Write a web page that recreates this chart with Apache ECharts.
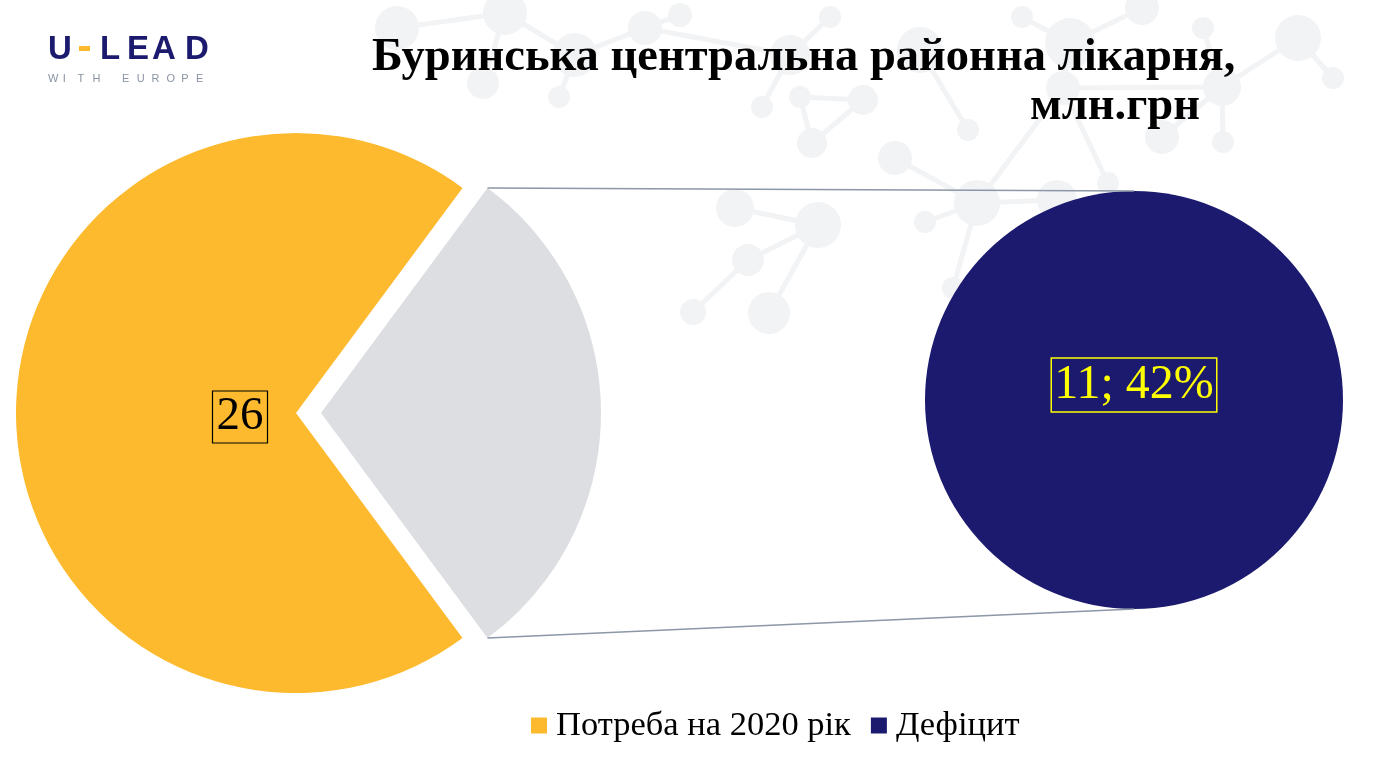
<!DOCTYPE html>
<html>
<head>
<meta charset="utf-8">
<script src="https://cdn.jsdelivr.net/npm/echarts@6/dist/echarts.min.js"></script>
<style>
  html, body { margin: 0; padding: 0; background: #fff; }
  #chart { width: 1380px; height: 757px; }
</style>
</head>
<body>
<div id="chart"></div>
<script>
// values, млн.грн
const categories = ['Потреба на 2020 рік', 'Дефіцит'];
const values = [26, 11];
const otherName = 'Інше';
const titleLines = ['Буринська центральна районна лікарня,', 'млн.грн'];

const YELLOW = '#fdba2e';
const GREY = '#dcdee2';
const NAVY = '#1b1a6e';
const SERIF = '"Liberation Serif", "Times New Roman", serif';

// pie geometry
const mainCenter = [296, 413];
const mainRadius = 280;
const explode = 25;
const subCenter = [1134, 400];
const subRadius = 209;

const total = values[0] + values[1];
const otherAngle = values[1] / total * 360;
const startAngle = -otherAngle / 2;
const deficitPct = Math.round(values[1] / values[0] * 100);

// faint molecule pattern behind the title
const decoNodes = [
  [397, 28, 22], [505, 13, 22], [575, 55, 22], [483, 83, 16], [559, 97, 11],
  [645, 28, 17], [680, 15, 12], [790, 55, 20], [762, 107, 11], [800, 97, 11],
  [830, 17, 11], [863, 100, 15], [812, 143, 15], [735, 208, 19], [818, 225, 23],
  [748, 260, 16], [769, 313, 21], [693, 312, 13], [920, 50, 23], [968, 130, 11],
  [895, 158, 17], [977, 203, 23], [925, 222, 11], [1070, 43, 25], [1063, 88, 17],
  [1022, 17, 11], [1057, 200, 20], [1108, 183, 11], [1162, 137, 17], [1142, 8, 17],
  [1222, 87, 19], [1203, 28, 11], [1223, 142, 11], [1298, 38, 23], [1333, 78, 11],
  [953, 288, 11]
];
const decoEdges = [
  [0, 1], [1, 2], [1, 3], [2, 4], [2, 5], [5, 6], [5, 7], [7, 8], [7, 10], [9, 11],
  [11, 12], [13, 14], [14, 15], [15, 17], [14, 16], [18, 19], [20, 21], [21, 22],
  [21, 26], [21, 24], [24, 23], [23, 25], [23, 29], [24, 27], [24, 30], [30, 31],
  [30, 32], [30, 33], [33, 34], [21, 35], [28, 30], [12, 9]
];

const chart = echarts.init(document.getElementById('chart'));

const rad = (otherAngle / 2) * Math.PI / 180;
const cornerX = mainCenter[0] + explode + mainRadius * Math.cos(rad);
const cornerTop = mainCenter[1] - mainRadius * Math.sin(rad);
const cornerBottom = mainCenter[1] + mainRadius * Math.sin(rad);

const graphics = [];
decoEdges.forEach(([a, b]) => {
  graphics.push({
    type: 'line', z: 0, silent: true,
    shape: { x1: decoNodes[a][0], y1: decoNodes[a][1], x2: decoNodes[b][0], y2: decoNodes[b][1] },
    style: { stroke: '#f2f3f5', lineWidth: 5 }
  });
});
decoNodes.forEach(([x, y, r]) => {
  graphics.push({ type: 'circle', z: 0, silent: true, shape: { cx: x, cy: y, r: r }, style: { fill: '#f2f3f5' } });
});

// connector lines between the two pies
graphics.push(
  { type: 'line', z: 3, shape: { x1: cornerX, y1: cornerTop, x2: subCenter[0], y2: subCenter[1] - subRadius },
    style: { stroke: '#8c97a7', lineWidth: 1.5 } },
  { type: 'line', z: 3, shape: { x1: cornerX, y1: cornerBottom, x2: subCenter[0], y2: subCenter[1] + subRadius },
    style: { stroke: '#8c97a7', lineWidth: 1.5 } }
);

// title
graphics.push(
  { type: 'text', z: 10, left: 372, top: 34,
    style: { text: titleLines[0], font: 'bold 46.5px ' + SERIF, fill: '#000' } },
  { type: 'text', z: 10, left: 1030, top: 83,
    style: { text: titleLines[1], font: 'bold 46.5px ' + SERIF, fill: '#000' } }
);

// logo
const logoLetters = [['U', 48], ['L', 100], ['E', 127], ['A', 152], ['D', 185]];
logoLetters.forEach(([ch, x]) => {
  graphics.push({ type: 'text', z: 10, left: x, top: 33,
    style: { text: ch, font: 'bold 33px "Liberation Sans", Arial, sans-serif', fill: NAVY } });
});
graphics.push({ type: 'rect', z: 10, shape: { x: 79, y: 46, width: 11, height: 5 }, style: { fill: YELLOW } });
'WITH EUROPE'.split('').forEach((ch, i) => {
  if (ch === ' ') return;
  graphics.push({ type: 'text', z: 10, left: 48 + i * 14.8, top: 73,
    style: { text: ch, font: '11px "Liberation Sans", Arial, sans-serif', fill: '#8a93a3' } });
});

chart.setOption({
  animation: false,
  backgroundColor: '#fff',
  legend: {
    data: categories,
    left: 526,
    top: 703,
    icon: 'rect',
    itemWidth: 16,
    itemHeight: 16,
    itemGap: 20,
    textStyle: { fontFamily: SERIF, fontSize: 34.5, color: '#000', padding: [0, 0, 0, 4] },
    selectedMode: false
  },
  graphic: graphics,
  series: [
    {
      type: 'pie',
      center: mainCenter,
      radius: mainRadius,
      startAngle: startAngle,
      clockwise: true,
      selectedMode: 'single',
      selectedOffset: explode,
      emphasis: { disabled: true },
      labelLine: { show: false },
      label: {
        show: true,
        position: 'center',
        formatter: '{c}',
        fontFamily: SERIF,
        fontSize: 47,
        lineHeight: 48,
        color: '#000',
        borderColor: '#000',
        borderWidth: 1.2,
        padding: [3, 4, 1, 4]
      },
      labelLayout: (p) => p.dataIndex === 0 ? { dx: -mainRadius * 0.2, dy: 4 } : {},
      data: [
        { name: categories[0], value: values[0], itemStyle: { color: YELLOW } },
        { name: otherName, value: values[1], selected: true, itemStyle: { color: GREY },
          select: { itemStyle: { color: GREY, borderWidth: 0 } }, label: { show: false } }
      ]
    },
    {
      type: 'pie',
      center: subCenter,
      radius: subRadius,
      emphasis: { disabled: true },
      labelLine: { show: false },
      label: {
        show: true,
        position: 'center',
        formatter: (p) => p.value + '; ' + deficitPct + '%',
        fontFamily: SERIF,
        fontSize: 48,
        lineHeight: 50,
        color: '#ffff00',
        borderColor: '#ffff00',
        borderWidth: 1.5,
        padding: [3, 3, 1, 3]
      },
      labelLayout: () => ({ dy: -15 }),
      data: [
        { name: categories[1], value: values[1], itemStyle: { color: NAVY } }
      ]
    }
  ]
});
</script>
</body>
</html>
